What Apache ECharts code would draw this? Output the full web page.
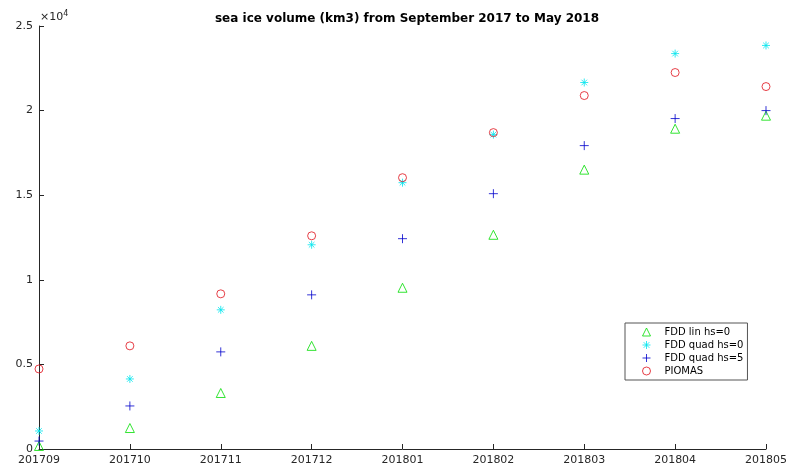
<!DOCTYPE html>
<html>
<head>
<meta charset="utf-8">
<script src="https://cdn.jsdelivr.net/npm/echarts@6/dist/echarts.min.js"></script>
<style>
  html, body { margin: 0; padding: 0; background: #fff; }
  #chart { width: 790px; height: 473px; }
</style>
</head>
<body>
<div id="chart"></div>
<script>
// months (x axis categories)
const months = ['201709', '201710', '201711', '201712', '201801', '201802', '201803', '201804', '201805']

// sea ice volume, km3
const fddLin0 = [180, 1240, 3310, 6095, 9530, 12660, 16510, 18930, 19700]
const fddQuad0 = [1065, 4140, 8225, 12070, 15740, 18580, 21660, 23370, 23850]
const fddQuad5 = [470, 2545, 5740, 9110, 12430, 15090, 17930, 19530, 20000]
const piomas = [4730, 6095, 9170, 12600, 16035, 18700, 20890, 22250, 21420]

const yTicks = [0, 5000, 10000, 15000, 20000, 25000]

// marker shapes, matlab style
const plusPath = 'path://M0,-5L0,5M-5,0L5,0'
const starPath = 'path://M0,-5L0,5M-5,0L5,0M-3.5,-3.5L3.5,3.5M-3.5,3.5L3.5,-3.5'

const chart = echarts.init(document.getElementById('chart'))

function scatter(name, data, symbol, size, color) {
  return {
    name: name,
    type: 'scatter',
    data: data,
    symbol: symbol,
    symbolSize: size,
    clip: false,
    itemStyle: { color: 'rgba(0,0,0,0)', borderColor: color, borderWidth: 1 },
    emphasis: { disabled: true },
  }
}

chart.setOption({
  animation: false,
  title: {
    text: 'sea ice volume (km3) from September 2017 to May 2018',
    left: 402,
    textAlign: 'center',
    top: 8,
    textStyle: { fontFamily: 'DejaVu Sans', fontSize: 12, fontWeight: 'bold', color: '#000' },
  },
  grid: { left: 39, right: 24, top: 26, bottom: 24 },
  legend: {
    orient: 'vertical',
    left: 625,
    top: 323,
    padding: [4, 4, 4, 17],
    itemGap: 3,
    itemWidth: 8,
    itemHeight: 8,
    borderColor: '#555',
    borderWidth: 1,
    backgroundColor: '#fff',
    itemStyle: { borderWidth: 1 },
    textStyle: { fontFamily: 'DejaVu Sans', fontSize: 10, color: '#000', padding: [0, 0, 0, 9] },
    data: ['FDD lin hs=0', 'FDD quad hs=0', 'FDD quad hs=5', 'PIOMAS'],
  },
  xAxis: {
    type: 'category',
    data: months,
    boundaryGap: false,
    axisLine: { lineStyle: { color: '#262626', width: 1 } },
    axisTick: { inside: true, length: 5, alignWithLabel: true, lineStyle: { color: '#262626' } },
    axisLabel: { fontFamily: 'DejaVu Sans', fontSize: 11, color: '#262626', margin: 6, showMaxLabel: true },
    splitLine: { show: false },
  },
  yAxis: {
    type: 'value',
    min: yTicks[0],
    max: yTicks[yTicks.length - 1],
    interval: 5000,
    name: '{t|×10}{s|4}',
    nameLocation: 'end',
    nameGap: 2,
    nameTextStyle: {
      align: 'left',
      padding: [0, 0, 0, 1],
      rich: {
        t: { fontFamily: 'DejaVu Sans', fontSize: 11, color: '#262626' },
        s: { fontFamily: 'DejaVu Sans', fontSize: 8, color: '#262626', verticalAlign: 'top', padding: [0, 0, 6, 0] },
      },
    },
    axisLine: { show: true, lineStyle: { color: '#262626', width: 1 } },
    axisTick: { show: true, inside: true, length: 5, lineStyle: { color: '#262626' } },
    axisLabel: {
      fontFamily: 'DejaVu Sans', fontSize: 11, color: '#262626', margin: 6,
      formatter: (v) => String(v / 10000),
    },
    splitLine: { show: false },
  },
  series: [
    scatter('FDD lin hs=0', fddLin0, 'triangle', 9, '#00dd00'),
    scatter('FDD quad hs=0', fddQuad0, starPath, 8, '#00e5ee'),
    scatter('FDD quad hs=5', fddQuad5, plusPath, 9, '#0000cc'),
    scatter('PIOMAS', piomas, 'circle', 8, '#e0101a'),
  ],
})
</script>
</body>
</html>
